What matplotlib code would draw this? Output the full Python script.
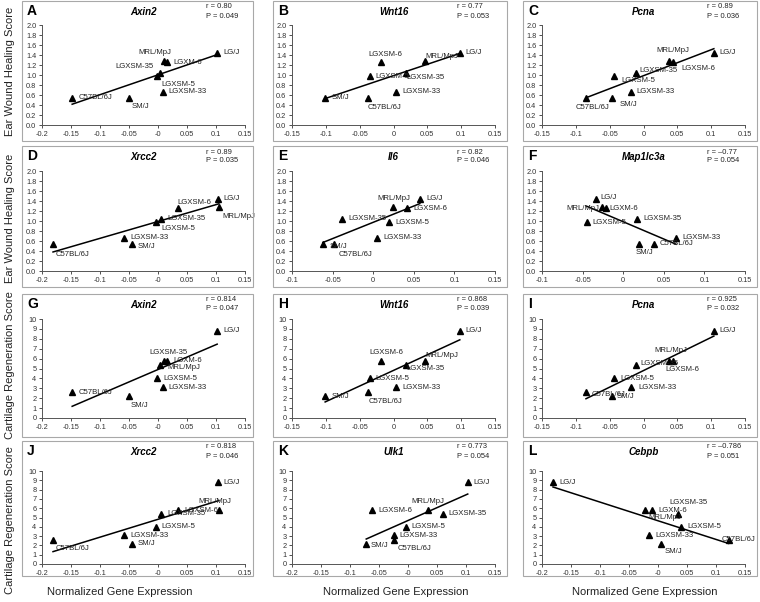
import numpy as np
import matplotlib.pyplot as plt
from matplotlib.patches import Rectangle
from matplotlib.ticker import FuncFormatter

plt.rcParams['font.family'] = ['Liberation Sans', 'DejaVu Sans']
plt.rcParams['axes.unicode_minus'] = False

# strain order used by every array below
strains = ['LG/J', 'SM/J', 'MRL/MpJ', 'C57BL/6J', 'LGXSM-5', 'LGXSM-6', 'LGXSM-33', 'LGXSM-35']

ear_score = [1.45, 0.55, 1.28, 0.55, 0.98, 1.26, 0.67, 1.05]
cartilage_score = [8.8, 2.2, 5.8, 2.6, 4.0, 5.8, 3.1, 5.4]

# normalized gene expression per strain
axin2 = [0.102, -0.050, 0.011, -0.148, -0.001, 0.016, 0.008, 0.003]
wnt16 = [0.098, -0.101, 0.047, -0.037, -0.035, -0.018, 0.004, 0.018]
pcna = [0.104, -0.046, 0.037, -0.085, -0.043, 0.044, -0.019, -0.011]
xrcc2 = [0.103, -0.045, 0.105, -0.181, -0.004, 0.035, -0.058, 0.006]
il6 = [0.0575, -0.062, 0.024, -0.0485, 0.020, 0.042, 0.005, -0.038]
map1lc3a = [-0.034, 0.020, -0.0265, 0.0375, -0.045, -0.021, 0.065, 0.017]
ulk1 = [0.103, -0.072, 0.035, -0.0245, -0.004, -0.062, -0.0245, 0.0595]
cebpb = [-0.181, 0.006, -0.0216, 0.1217, 0.0395, -0.0096, -0.0153, 0.035]

letters = ['A', 'B', 'C', 'D', 'E', 'F', 'G', 'H', 'I', 'J', 'K', 'L']
genes = ['Axin2', 'Wnt16', 'Pcna', 'Xrcc2', 'Il6', 'Map1lc3a',
         'Axin2', 'Wnt16', 'Pcna', 'Xrcc2', 'Ulk1', 'Cebpb']
expr = [axin2, wnt16, pcna, xrcc2, il6, map1lc3a,
        axin2, wnt16, pcna, xrcc2, ulk1, cebpb]
r_text = ['0.80', '0.77', '0.89', '0.89', '0.82', '\u20130.77',
          '0.814', '0.868', '0.925', '0.818', '0.773', '\u20130.786']
p_text = ['0.049', '0.053', '0.036', '0.035', '0.046', '0.054',
          '0.047', '0.039', '0.032', '0.046', '0.054', '0.051']
x_min = [-0.2, -0.15, -0.15, -0.2, -0.1, -0.1,
         -0.2, -0.15, -0.15, -0.2, -0.2, -0.2]
typo_panels = ['A', 'F', 'G', 'L']   # original figure labels LGXSM-6 as "LGXM-6" here

# label offsets in pixels (dx, dy, ha); default is (6, 0, 'left')
label_pos = {
    'A': {'MRL/MpJ': (-10, 8, 'center'), 'LGXSM-35': (-6, 6, 'right'),
          'LGXSM-5': (4, -8, 'left'), 'SM/J': (3, -9, 'left')},
    'B': {'C57BL/6J': (-1, -10, 'left'), 'LGXSM-6': (4, 8, 'center'),
          'LGXSM-35': (1, -5, 'left'), 'MRL/MpJ': (0, 5, 'left')},
    'C': {'C57BL/6J': (7, -10, 'center'), 'SM/J': (7, -7, 'left'),
          'LGXSM-5': (7, -5, 'left'), 'LGXSM-35': (3, 2, 'left'),
          'MRL/MpJ': (4, 11, 'center'), 'LGXSM-6': (8, -7, 'left')},
    'D': {'C57BL/6J': (3, -11, 'left'), 'SM/J': (6, -3, 'left'),
          'LGXSM-5': (6, -7, 'left'), 'LGXSM-6': (-1, 6, 'left'),
          'MRL/MpJ': (3, -9, 'left')},
    'E': {'MRL/MpJ': (1, 9, 'center'), 'SM/J': (7, -3, 'left'),
          'C57BL/6J': (5, -11, 'left')},
    'F': {'LG/J': (5, 1, 'left'), 'MRL/MpJ': (-2, -2, 'right'),
          'LGXSM-6': (3, -1, 'left'), 'SM/J': (5, -9, 'center')},
    'G': {'LGXSM-35': (9, 12, 'center'), 'MRL/MpJ': (3, -7, 'left'),
          'SM/J': (2, -9, 'left')},
    'H': {'LGXSM-6': (5, 8, 'center'), 'MRL/MpJ': (0, 5, 'left'),
          'LGXSM-35': (1, -4, 'left'), 'C57BL/6J': (0, -9, 'left')},
    'I': {'MRL/MpJ': (2, 10, 'center'), 'LGXSM-6': (-8, -9, 'left'),
          'LGXSM-35': (4, 1, 'left'), 'LGXSM-33': (8, 0, 'left'),
          'C57BL/6J': (6, -2, 'left'), 'SM/J': (4, 0, 'left')},
    'J': {'MRL/MpJ': (-4, 9, 'center'), 'C57BL/6J': (3, -9, 'left')},
    'K': {'MRL/MpJ': (0, 9, 'center'), 'C57BL/6J': (4, -9, 'left'),
          'SM/J': (4, -2, 'left')},
    'L': {'LGXSM-35': (10, 11, 'center'), 'MRL/MpJ': (3, -7, 'left'),
          'SM/J': (3, -8, 'left'), 'C57BL/6J': (-7, 0, 'left')},
}

W, H = 760, 602
fig = plt.figure(figsize=(W / 100, H / 100), dpi=100)

# layout in pixels
ax_left = [42, 292, 542]
ax_w = 203
ax_rows = [(25, 125), (171, 271), (319, 418), (471, 564)]
box_left = [22, 273, 523]
box_w = [231, 234, 234]
box_rows = [(1, 141), (146, 287), (294, 437), (441, 576)]

fmt = FuncFormatter(lambda v, p: '%g' % round(v, 3))

for i, letter in enumerate(letters):
    row, col = divmod(i, 3)
    bt, bb = box_rows[row]
    fig.add_artist(Rectangle((box_left[col] / W, 1 - bb / H), box_w[col] / W, (bb - bt) / H,
                             transform=fig.transFigure, fill=False,
                             edgecolor='#a8a8a8', linewidth=0.8))
    top, bot = ax_rows[row]
    ax = fig.add_axes([ax_left[col] / W, 1 - bot / H, ax_w / W, (bot - top) / H])
    ax.patch.set_alpha(0)

    x = np.array(expr[i])
    y = np.array(ear_score if row < 2 else cartilage_score)
    ax.plot(x, y, '^', color='black', markersize=5)
    k, b = np.polyfit(x, y, 1)
    xl = np.array([x.min(), x.max()])
    ax.plot(xl, k * xl + b, color='black', linewidth=1.1)

    offs = label_pos.get(letter, {})
    for s, xv, yv in zip(strains, x, y):
        dx, dy, ha = offs.get(s, (6, 0, 'left'))
        name = 'LGXM-6' if (s == 'LGXSM-6' and letter in typo_panels) else s
        ax.annotate(name, (xv, yv), xytext=(dx, dy), textcoords='offset pixels',
                    ha=ha, va='center', fontsize=5.6, color='#222222')

    ax.set_xlim(x_min[i], 0.15)
    ax.set_xticks(np.arange(x_min[i], 0.1501, 0.05))
    ax.xaxis.set_major_formatter(fmt)
    if row < 2:
        ax.set_ylim(0, 2.0)
        ax.set_yticks(np.arange(0, 2.01, 0.2))
        ax.yaxis.set_major_formatter(FuncFormatter(lambda v, p: '%.1f' % v))
    else:
        ax.set_ylim(0, 10)
        ax.set_yticks(np.arange(0, 11, 1))
    for sp in ['top', 'right']:
        ax.spines[sp].set_visible(False)
    for sp in ['left', 'bottom']:
        ax.spines[sp].set_color('#555555')
        ax.spines[sp].set_linewidth(0.7)
    ax.tick_params(labelsize=5.3, colors='#333333', length=2, width=0.6, pad=2)

    # panel texts
    fig.text((box_left[col] + 5) / W, 1 - (bt + 10) / H, letter, fontsize=10,
             fontweight='bold', ha='left', va='center')
    fig.text((ax_left[col] + ax_w / 2) / W, 1 - (bt + 11) / H, genes[i], fontsize=7,
             fontweight='bold', fontstyle='italic', ha='center', va='center')
    fig.text((box_left[col] + 184) / W, 1 - (bt + 6) / H, 'r = ' + r_text[i],
             fontsize=5.4, ha='left', va='center', color='#222222')
    fig.text((box_left[col] + 184) / W, 1 - (bt + 15) / H, 'P = ' + p_text[i],
             fontsize=5.4, ha='left', va='center', color='#222222')

# shared axis titles
for yc, t in [(71, 'Ear Wound Healing Score'), (218, 'Ear Wound Healing Score'),
              (365, 'Cartilage Regeneration Score'), (520, 'Cartilage Regeneration Score')]:
    fig.text(10 / W, 1 - yc / H, t, rotation=90, ha='center', va='center',
             fontsize=8, color='#222222')
for xc in [120, 396, 645]:
    fig.text(xc / W, 1 - 592 / H, 'Normalized Gene Expression', ha='center', va='center',
             fontsize=8, color='#222222')

fig.savefig('out.png', dpi=100)
